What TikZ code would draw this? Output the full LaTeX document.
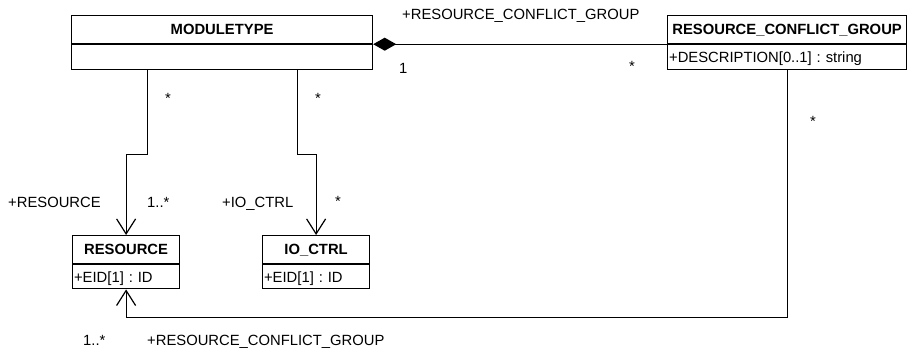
\documentclass[tikz,border=0pt]{standalone}
\usepackage{fontspec}
\setmainfont{Liberation Sans}
\usepackage{tikz}
\usetikzlibrary{arrows.meta,positioning}
\frenchspacing
\newcommand{\umlfont}{\fontsize{14.8}{17.8}\selectfont}
\tikzset{
  classname/.style={draw, fill=white, line width=1.2pt, anchor=north west, inner sep=0pt,
                    font=\umlfont\bfseries, minimum height=28pt, text height=10.6pt, text depth=0pt},
  classattr/.style={draw, fill=white, line width=1.2pt, inner xsep=1.5pt, inner ysep=0pt,
                    align=left, text height=10.6pt, text depth=0pt},
  assoc/.style={line width=1.2pt},
  nav/.style={assoc, -{Straight Barb[length=15pt,width=19pt]}},
  compos/.style={assoc, {Diamond[length=23pt,width=13pt]}-},
  role/.style={inner sep=0pt}
}

\begin{document}
\begin{tikzpicture}[x=1pt, y=-1pt, font=\umlfont]
  \useasboundingbox (0,0) rectangle (909,351);

  % classes: name part and attribute part
  \node[classname, minimum width=301pt] (mt) at (71,15) {MODULETYPE};
  \node[classattr, minimum width=301pt, minimum height=25pt, below=0pt of mt] (mtattr) {};

  \node[classname, minimum width=239pt] (rcg) at (667,15) {RESOURCE\_CONFLICT\_GROUP};
  \node[classattr, text width=236pt, minimum height=25pt, below=0pt of rcg] (rcgattr) {+DESCRIPTION[0..1] : string};

  \node[classname, minimum width=107pt] (res) at (72,235) {RESOURCE};
  \node[classattr, text width=104pt, minimum height=24pt, below=0pt of res] (resattr) {+EID[1] : ID};

  \node[classname, minimum width=107pt] (io) at (262,235) {IO\_CTRL};
  \node[classattr, text width=104pt, minimum height=24pt, below=0pt of io] (ioattr) {+EID[1] : ID};

  % associations
  \draw[compos] (mt.south east) -- (rcg.south west);
  \draw[nav] ([xshift=-75pt]mtattr.south) -- ++(0,84) -| (res.north);
  \draw[nav] ([xshift=75pt]mtattr.south) -- ++(0,84) -| (io.north);
  \draw[nav] (rcgattr.south) -- ++(0,247) -| (resattr.south);

  % roles and multiplicities
  \node[role, anchor=base west] (rcgrole) at (402,19) {+RESOURCE\_CONFLICT\_GROUP};
  \node[role, anchor=base west] (mtmult) at (399,73) {1};
  \node[role, anchor=base] (rcgmult) at (632,71) {*};
  \node[role, anchor=base] (resmulttop) at (168,103) {*};
  \node[role, anchor=base] (iomulttop) at (318,103) {*};
  \node[role, anchor=base west] (resrole) at (8,207) {+RESOURCE};
  \node[role, anchor=base west] (resmult) at (147,207) {1..*};
  \node[role, anchor=base west] (iorole) at (222,207) {+IO\_CTRL};
  \node[role, anchor=base] (iomult) at (338,206) {*};
  \node[role, anchor=base] (grpmult) at (813,126) {*};
  \node[role, anchor=base west] (grpresmult) at (83,345) {1..*};
  \node[role, anchor=base west] (grprole) at (147,345) {+RESOURCE\_CONFLICT\_GROUP};
\end{tikzpicture}
\end{document}
